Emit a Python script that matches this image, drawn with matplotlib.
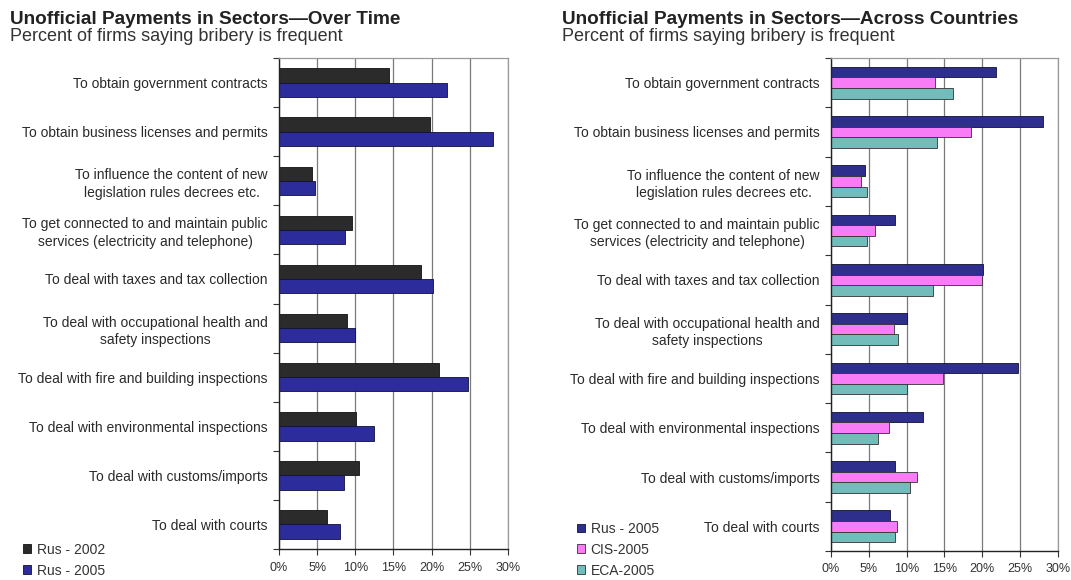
import numpy as np
import matplotlib.pyplot as plt

plt.rcParams['font.family'] = ['Liberation Sans', 'DejaVu Sans']

# categorie (dall'alto verso il basso)
categories = [
    "To obtain government contracts",
    "To obtain business licenses and permits",
    "To influence the content of new\nlegislation rules decrees etc.",
    "To get connected to and maintain public\nservices (electricity and telephone)",
    "To deal with taxes and tax collection",
    "To deal with occupational health and\nsafety inspections",
    "To deal with fire and building inspections",
    "To deal with environmental inspections",
    "To deal with customs/imports",
    "To deal with courts",
]

# pannello sinistro: nel tempo
rus_2002 = [14.4, 19.8, 4.3, 9.5, 18.6, 8.9, 21.0, 10.1, 10.5, 6.3]
rus_2005 = [22.0, 28.0, 4.7, 8.7, 20.2, 10.0, 24.7, 12.4, 8.5, 8.0]

# pannello destro: tra paesi
rus_2005_c = [21.8, 28.0, 4.5, 8.5, 20.1, 10.1, 24.7, 12.2, 8.5, 7.8]
cis_2005 = [13.7, 18.5, 4.0, 5.8, 20.0, 8.3, 14.8, 7.7, 11.4, 8.7]
eca_2005 = [16.1, 14.0, 4.7, 4.8, 13.5, 8.8, 10.1, 6.2, 10.4, 8.5]

xticks = [0, 5, 10, 15, 20, 25, 30]
xticklabels = ["0%", "5%", "10%", "15%", "20%", "25%", "30%"]

fig = plt.figure(figsize=(10.71, 5.8), dpi=100)

ax1 = fig.add_axes([0.2605, 0.0534, 0.2138, 0.8466])
ax2 = fig.add_axes([0.7759, 0.050, 0.2119, 0.850])

y = np.arange(len(categories))


def style_axis(ax):
    ax.set_xlim(0, 30)
    ax.set_ylim(len(categories) - 0.5, -0.5)
    ax.set_xticks(xticks)
    ax.set_xticklabels(xticklabels, fontsize=9, color='#333333')
    ax.set_yticks(y)
    ax.set_yticklabels(categories, fontsize=10, color='#2a2a2a',
                       ha='right', multialignment='center', linespacing=1.3)
    ax.set_yticks(np.arange(len(categories) + 1) - 0.5, minor=True)
    ax.tick_params(axis='y', which='major', length=0, pad=8)
    ax.tick_params(axis='y', which='minor', length=4, direction='out',
                   width=0.8, color='#333333')
    ax.tick_params(axis='x', length=4, width=0.8, pad=5, color='#333333')
    ax.grid(True, axis='x', color='#7a7a7a', linewidth=0.9)
    ax.set_axisbelow(True)
    for s in ['top', 'right']:
        ax.spines[s].set_color('#9a9a9a')
        ax.spines[s].set_linewidth(0.9)
    for s in ['left', 'bottom']:
        ax.spines[s].set_color('#222222')
        ax.spines[s].set_linewidth(1.0)


# pannello sinistro
h = 0.29
ax1.barh(y - h / 2, rus_2002, height=h, color='#2b2b2b',
         edgecolor='#111111', linewidth=0.6, label='Rus - 2002')
ax1.barh(y + h / 2, rus_2005, height=h, color='#2c2c9c',
         edgecolor='#111133', linewidth=0.6, label='Rus - 2005')
style_axis(ax1)

# pannello destro
h2 = 0.215
ax2.barh(y - h2, rus_2005_c, height=h2, color='#2e2e8c',
         edgecolor='#111133', linewidth=0.6, label='Rus - 2005')
ax2.barh(y, cis_2005, height=h2, color='#f77cf5',
         edgecolor='#333333', linewidth=0.6, label='CIS-2005')
ax2.barh(y + h2, eca_2005, height=h2, color='#72bdbb',
         edgecolor='#333333', linewidth=0.6, label='ECA-2005')
style_axis(ax2)

# titoli
fig.text(0.009, 0.967, "Unofficial Payments in Sectors\u2014Over Time",
         fontsize=13.7, fontweight='bold', color='#222222', va='center')
fig.text(0.009, 0.937, "Percent of firms saying bribery is frequent",
         fontsize=13, color='#333333', va='center')
fig.text(0.525, 0.967, "Unofficial Payments in Sectors\u2014Across Countries",
         fontsize=13.7, fontweight='bold', color='#222222', va='center')
fig.text(0.525, 0.937, "Percent of firms saying bribery is frequent",
         fontsize=13, color='#333333', va='center')

# legende
leg_kw = dict(frameon=False, fontsize=10, handlelength=0.6,
              handleheight=0.6, handletextpad=0.4, labelspacing=0.5,
              borderpad=0.0, labelcolor='#333333')
h1, l1 = ax1.get_legend_handles_labels()
fig.legend(h1, l1, loc='lower left', bbox_to_anchor=(0.015, -0.008), **leg_kw)
h2_, l2_ = ax2.get_legend_handles_labels()
fig.legend(h2_, l2_, loc='lower left', bbox_to_anchor=(0.532, -0.008), **leg_kw)

fig.savefig('out.png', dpi=100)
